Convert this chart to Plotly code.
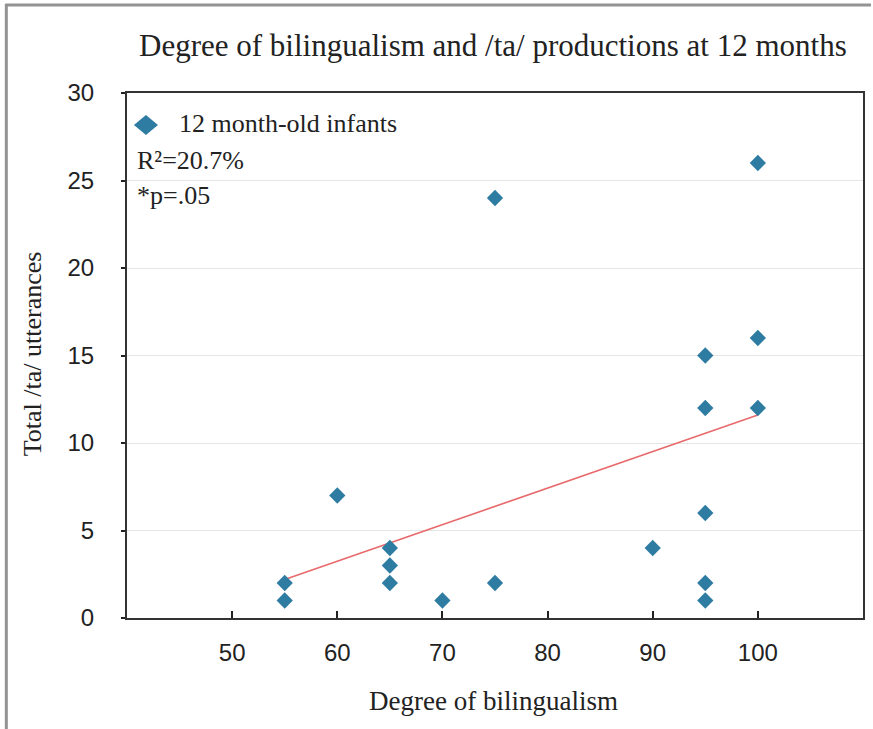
import plotly.graph_objects as go

# Data
bilingualism = [55, 55, 60, 65, 65, 65, 70, 75, 75, 90, 95, 95, 95, 95, 95, 100, 100, 100]
ta_utterances = [2, 1, 7, 4, 3, 2, 1, 24, 2, 4, 15, 12, 6, 2, 1, 26, 16, 12]
trend_x = [55, 100]
trend_y = [2.2, 11.6]
x_ticks = [50, 60, 70, 80, 90, 100]
y_ticks = [0, 5, 10, 15, 20, 25, 30]
series_name = "12 month-old infants"

SERIF = "Liberation Serif, Times New Roman, serif"
SANS = "Liberation Sans, Arial, sans-serif"
MARKER_COLOR = "#2f7ca3"

fig = go.Figure()
fig.add_trace(go.Scatter(
    x=trend_x, y=trend_y, mode="lines",
    line=dict(color="#e8696b", width=1.6),
    showlegend=False, hoverinfo="skip",
))
fig.add_trace(go.Scatter(
    x=bilingualism, y=ta_utterances, mode="markers",
    name=series_name, showlegend=False,
    marker=dict(symbol="diamond", size=12.5, color=MARKER_COLOR),
))

W, H = 873, 729
L, R, T, B = 127, 865, 93, 618
pw, ph = R - L, B - T

def px_x(x):
    return (x - L) / pw

def px_y(y):
    return (B - y) / ph

fig.update_layout(
    width=W, height=H,
    margin=dict(l=L, r=W - R, t=T, b=H - B),
    paper_bgcolor="white", plot_bgcolor="white",
    showlegend=False,
    xaxis=dict(
        range=[40, 110], tickvals=x_ticks, ticks="inside", ticklen=7, tickwidth=1.5,
        tickcolor="#222", showgrid=False, zeroline=False,
        showline=True, linecolor="#333", linewidth=2, mirror=True,
        tickfont=dict(family=SANS, size=24, color="#222"),
        ticklabelstandoff=12,
    ),
    yaxis=dict(
        range=[0, 30], tickvals=y_ticks, ticks="outside", ticklen=4, tickwidth=1.5,
        tickcolor="#222", showgrid=True, gridcolor="#e6e6e6", gridwidth=1,
        zeroline=False, showline=True, linecolor="#333", linewidth=2, mirror=True,
        tickfont=dict(family=SANS, size=24, color="#222"),
        ticklabelstandoff=22,
    ),
    annotations=[
        dict(text="Degree of bilingualism and /ta/ productions at 12 months",
             xref="paper", yref="paper", x=px_x(494), y=px_y(45),
             xanchor="center", yanchor="middle", showarrow=False,
             font=dict(family=SERIF, size=31, color="#222")),
        dict(text="Degree of bilingualism",
             xref="paper", yref="paper", x=px_x(494), y=px_y(701),
             xanchor="center", yanchor="middle", showarrow=False,
             font=dict(family=SERIF, size=27, color="#222")),
        dict(text="Total /ta/ utterances", textangle=-90,
             xref="paper", yref="paper", x=px_x(32), y=px_y(354),
             xanchor="center", yanchor="middle", showarrow=False,
             font=dict(family=SERIF, size=26, color="#222")),
        dict(text=series_name,
             xref="paper", yref="paper", x=px_x(177), y=px_y(124),
             xanchor="left", yanchor="middle", showarrow=False,
             font=dict(family=SERIF, size=26, color="#222")),
        dict(text="R²=20.7%",
             xref="paper", yref="paper", x=px_x(135), y=px_y(160),
             xanchor="left", yanchor="middle", showarrow=False,
             font=dict(family=SERIF, size=26, color="#222")),
        dict(text="*p=.05",
             xref="paper", yref="paper", x=px_x(135), y=px_y(195),
             xanchor="left", yanchor="middle", showarrow=False,
             font=dict(family=SERIF, size=26, color="#222")),
    ],
    shapes=[
        # legend symbol
        dict(type="path", xref="paper", yref="paper",
             xsizemode="pixel", ysizemode="pixel",
             xanchor=px_x(146), yanchor=px_y(125),
             path="M -12 0 L 0 10 L 12 0 L 0 -10 Z",
             fillcolor=MARKER_COLOR, line=dict(width=0)),
        # outer frame (left and top)
        dict(type="line", xref="paper", yref="paper",
             x0=px_x(6), x1=px_x(6), y0=px_y(729), y1=px_y(4),
             line=dict(color="#939393", width=3)),
        dict(type="line", xref="paper", yref="paper",
             x0=px_x(5), x1=px_x(873), y0=px_y(5), y1=px_y(5),
             line=dict(color="#939393", width=3)),
    ],
)

fig.write_html("out.html")
